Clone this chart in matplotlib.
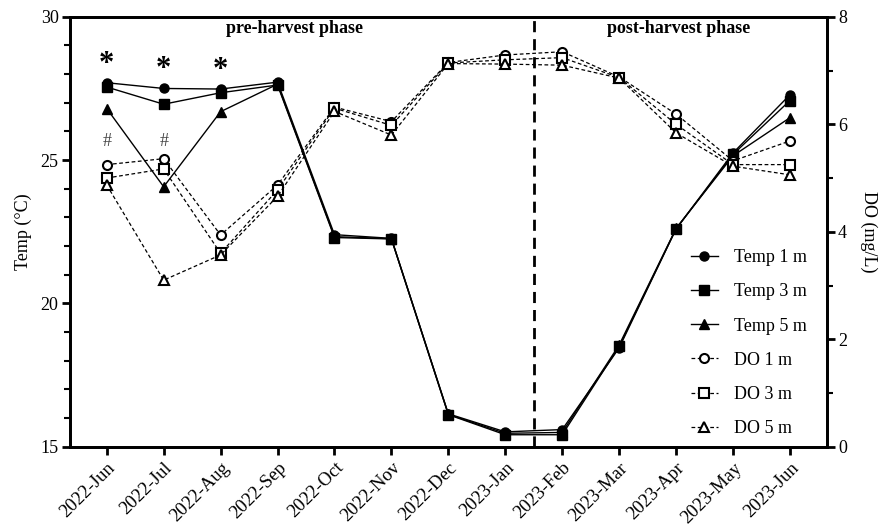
import numpy as np
import matplotlib.pyplot as plt
from matplotlib.ticker import MultipleLocator

plt.rcParams['font.family'] = ['Liberation Serif', 'DejaVu Serif']

months = ['2022-Jun', '2022-Jul', '2022-Aug', '2022-Sep', '2022-Oct', '2022-Nov',
          '2022-Dec', '2023-Jan', '2023-Feb', '2023-Mar', '2023-Apr', '2023-May', '2023-Jun']

# temperature (°C) by depth
temp_1m = [27.7, 27.5, 27.48, 27.72, 22.4, 22.27, 16.15, 15.52, 15.6, 18.45, 22.6, 25.25, 27.28]
temp_3m = [27.55, 26.95, 27.35, 27.62, 22.3, 22.25, 16.12, 15.42, 15.42, 18.5, 22.6, 25.2, 27.08]
temp_5m = [26.8, 24.07, 26.69, 27.65, 22.33, 22.26, 16.13, 15.47, 15.5, 18.55, 22.62, 25.15, 26.48]

# dissolved oxygen (mg/L) by depth
do_1m = [5.25, 5.36, 3.94, 4.87, 6.32, 6.05, 7.15, 7.29, 7.35, 6.88, 6.19, 5.32, 5.69]
do_3m = [5.0, 5.17, 3.6, 4.78, 6.3, 5.98, 7.14, 7.2, 7.24, 6.87, 6.0, 5.25, 5.25]
do_5m = [4.87, 3.1, 3.57, 4.66, 6.24, 5.8, 7.13, 7.12, 7.1, 6.86, 5.84, 5.22, 5.06]

temp_star_idx = [0, 1, 2]   # '*' marks
do_hash_idx = [0, 1]        # '#' marks

x = np.arange(len(months))

fig = plt.figure(figsize=(8.94, 5.25), dpi=100)
ax = fig.add_axes([0.078, 0.149, 0.847, 0.819])
ax2 = ax.twinx()

ms = 6.5
l1, = ax.plot(x, temp_1m, '-', color='black', lw=1.0, marker='o', ms=ms, label='Temp 1 m')
l2, = ax.plot(x, temp_3m, '-', color='black', lw=1.0, marker='s', ms=ms, label='Temp 3 m')
l3, = ax.plot(x, temp_5m, '-', color='black', lw=1.0, marker='^', ms=ms, label='Temp 5 m')

l4, = ax2.plot(x, do_1m, '--', color='black', lw=0.9, dashes=(3, 2), marker='o', ms=ms,
               mfc='white', mec='black', mew=1.5, label='DO 1 m')
l5, = ax2.plot(x, do_3m, '--', color='black', lw=0.9, dashes=(3, 2), marker='s', ms=ms,
               mfc='white', mec='black', mew=1.5, label='DO 3 m')
l6, = ax2.plot(x, do_5m, '--', color='black', lw=0.9, dashes=(3, 2), marker='^', ms=ms + 0.5,
               mfc='white', mec='black', mew=1.5, label='DO 5 m')

# phase separator
ax.axvline(7.5, color='black', lw=2, linestyle=(0, (4, 2.5)))

ax.set_xlim(-0.65, 12.65)
ax.set_ylim(15, 30)
ax2.set_ylim(0, 8)

ax.set_xticks(x)
ax.set_xticklabels(months, rotation=45, ha='right', rotation_mode='anchor')
ax.yaxis.set_major_locator(MultipleLocator(5))
ax.yaxis.set_minor_locator(MultipleLocator(1))
ax2.yaxis.set_major_locator(MultipleLocator(2))
ax2.yaxis.set_minor_locator(MultipleLocator(1))

for a in (ax, ax2):
    for s in a.spines.values():
        s.set_linewidth(2)
    a.tick_params(which='major', direction='out', length=6, width=2, labelsize=13, pad=2)
    a.tick_params(which='minor', direction='out', length=4, width=1.5)
ax.tick_params(axis='x', labelsize=13.5, pad=3)

ax.set_ylabel('Temp (°C)', fontsize=13, labelpad=6)
ax2.set_ylabel('DO (mg/L)', fontsize=13, rotation=270, labelpad=22)

ax.text(3.3, 29.6, 'pre-harvest phase', ha='center', va='center', fontsize=13, fontweight='bold')
ax.text(10.05, 29.6, 'post-harvest phase', ha='center', va='center', fontsize=13, fontweight='bold')

for i in temp_star_idx:
    ax.text(x[i], max(temp_1m[i], temp_3m[i]) + 0.65, '*', ha='center', va='center',
            fontsize=22, fontweight='bold')
for i in do_hash_idx:
    ax2.text(x[i], 5.68, '#', ha='center', va='center', fontsize=13, color='#444444')

leg = ax.legend(handles=[l1, l2, l3, l4, l5, l6], loc='lower right',
                bbox_to_anchor=(0.995, -0.015), frameon=False, fontsize=13,
                handlelength=1.5, labelspacing=0.95, handletextpad=0.9)

fig.savefig('out.png', dpi=100)
